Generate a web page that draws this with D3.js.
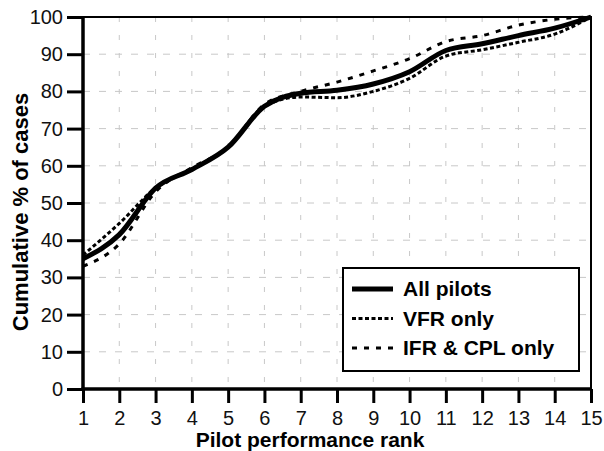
<!DOCTYPE html>
<html>
<head>
<meta charset="utf-8">
<script src="https://cdn.jsdelivr.net/npm/d3@7"></script>
<style>
  body { margin: 0; background: #fff; }
  svg { display: block; font-family: "Liberation Sans", Arial, Helvetica, sans-serif; }
</style>
</head>
<body>
<div id="chart"></div>
<script>
// pilot performance rank 1..15
const ranks = [1, 2, 3, 4, 5, 6, 7, 8, 9, 10, 11, 12, 13, 14, 15];
// cumulative % of cases
const allPilots = [35, 41.5, 54, 59, 65, 76, 79.5, 80.3, 82, 85.3, 91, 92.8, 95, 97, 100];
const vfrOnly   = [36, 44.5, 54, 59, 65, 76, 78.5, 78.3, 80, 83.5, 89.5, 91.2, 93.2, 95.4, 100];
const ifrCpl    = [33, 39, 53, 59.5, 65, 76.5, 80, 82.5, 85.5, 88.8, 93.4, 95, 97.8, 99.4, 100];
const yTicks = [0, 10, 20, 30, 40, 50, 60, 70, 80, 90, 100];

const series = [
  { name: "IFR & CPL only", values: ifrCpl, width: 3, dash: "5,7" },
  { name: "VFR only", values: vfrOnly, width: 3, dash: "4,2.5" },
  { name: "All pilots", values: allPilots, width: 5, dash: null }
];
const legendOrder = ["All pilots", "VFR only", "IFR & CPL only"];

const W = 604, H = 451;
const margin = { top: 17, right: 13, bottom: 62, left: 83 };
const width = W - margin.left - margin.right;
const height = H - margin.top - margin.bottom;

const svg = d3.select("#chart").append("svg")
  .attr("width", W)
  .attr("height", H);

const g = svg.append("g")
  .attr("transform", "translate(" + margin.left + "," + margin.top + ")");

const x = d3.scaleLinear().domain([1, 15]).range([0, width]);
const y = d3.scaleLinear().domain([0, 100]).range([height, 0]);

// grid
g.append("g").selectAll("line")
  .data(yTicks.filter(d => d > 0 && d < 100))
  .join("line")
  .attr("x1", 0).attr("x2", width)
  .attr("y1", d => y(d)).attr("y2", d => y(d))
  .attr("stroke", "#c8c8c8")
  .attr("stroke-width", 1)
  .attr("stroke-dasharray", "7,9");

g.append("g").selectAll("line")
  .data(ranks.filter(d => d > 1 && d < 15))
  .join("line")
  .attr("x1", d => x(d)).attr("x2", d => x(d))
  .attr("y1", 0).attr("y2", height)
  .attr("stroke", "#c8c8c8")
  .attr("stroke-width", 1)
  .attr("stroke-dasharray", "5,13");

// top and right frame
g.append("path")
  .attr("d", "M0,0H" + width + "V" + height)
  .attr("fill", "none")
  .attr("stroke", "#000")
  .attr("stroke-width", 2);

// curves
const line = d3.line()
  .x((d, i) => x(ranks[i]))
  .y(d => y(d))
  .curve(d3.curveMonotoneX);

g.selectAll(".series")
  .data(series)
  .join("path")
  .attr("class", "series")
  .attr("d", d => line(d.values))
  .attr("fill", "none")
  .attr("stroke", "#000")
  .attr("stroke-width", d => d.width)
  .attr("stroke-dasharray", d => d.dash);

// axes
const yAxis = g.append("g")
  .call(d3.axisLeft(y).tickValues(yTicks).tickSize(16).tickPadding(4));
const xAxis = g.append("g")
  .attr("transform", "translate(0," + height + ")")
  .call(d3.axisBottom(x).tickValues(ranks).tickFormat(d3.format("d")).tickSize(14).tickPadding(8));

[yAxis, xAxis].forEach(a => {
  a.select(".domain").attr("stroke-width", 3.5).attr("stroke", "#000");
  a.selectAll(".tick line").attr("stroke-width", 3).attr("stroke", "#000");
  a.selectAll(".tick text")
    .attr("fill", "#111")
    .style("font-size", "20px")
    .style("font-family", "'Liberation Sans', Arial, sans-serif");
});
yAxis.select(".domain").attr("d", "M0," + (height + 1.5) + "V-1");
xAxis.select(".domain").attr("d", "M-1.5,0H" + (width + 1));

// axis titles
svg.append("text")
  .attr("x", 310)
  .attr("y", 447)
  .attr("text-anchor", "middle")
  .style("font-size", "21px")
  .style("font-weight", "bold")
  .text("Pilot performance rank");

svg.append("text")
  .attr("transform", "translate(28,212) rotate(-90)")
  .attr("text-anchor", "middle")
  .style("font-size", "22px")
  .style("font-weight", "bold")
  .text("Cumulative % of cases");

// legend
const legend = svg.append("g").attr("transform", "translate(343,268)");
legend.append("rect")
  .attr("width", 236).attr("height", 103)
  .attr("fill", "#fff")
  .attr("stroke", "#000")
  .attr("stroke-width", 2);

const items = legend.selectAll(".item")
  .data(legendOrder.map(n => series.find(s => s.name === n)))
  .join("g")
  .attr("class", "item")
  .attr("transform", (d, i) => "translate(0," + (21 + i * 29.5) + ")");

items.append("line")
  .attr("x1", 9).attr("x2", 50)
  .attr("stroke", "#000")
  .attr("stroke-width", d => d.width)
  .attr("stroke-dasharray", d => d.dash);

items.append("text")
  .attr("x", 60)
  .attr("y", 7)
  .style("font-size", "21px")
  .style("font-weight", "bold")
  .text(d => d.name);
</script>
</body>
</html>
